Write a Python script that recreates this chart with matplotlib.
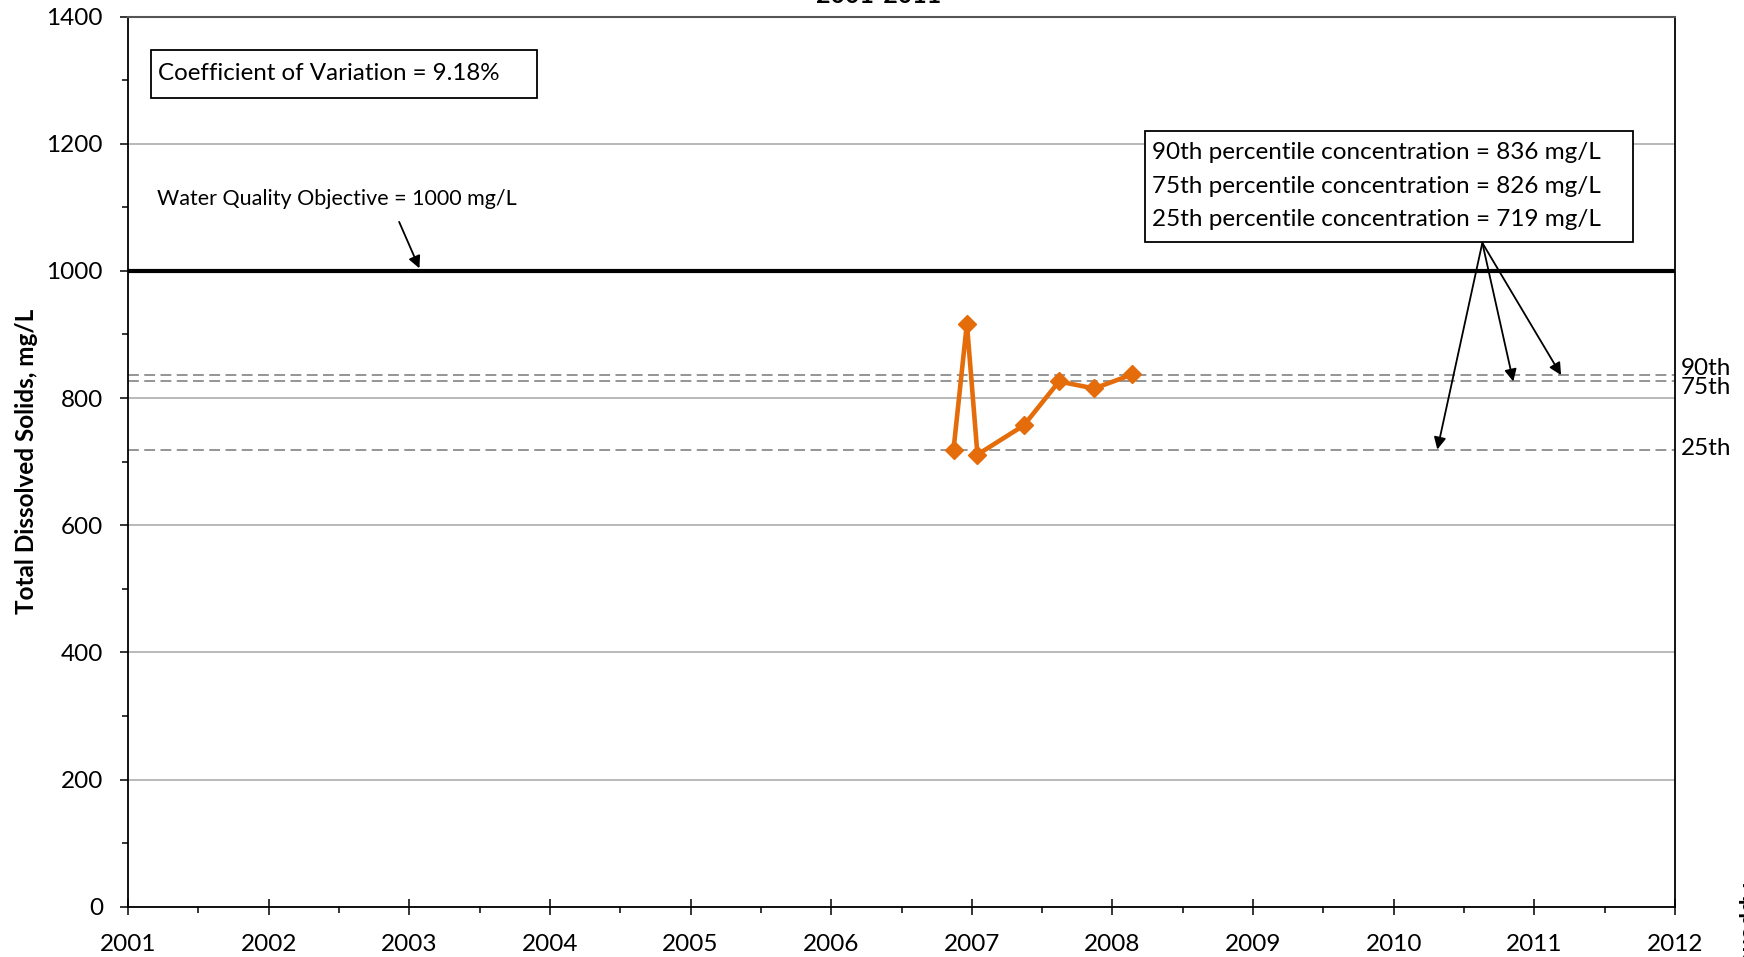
import matplotlib
matplotlib.use('Agg')
import matplotlib.pyplot as plt
from matplotlib.patches import Rectangle
from matplotlib.ticker import MultipleLocator
import matplotlib.transforms as mtransforms

# sample dates (decimal years) and TDS results
years = [2006.87, 2006.965, 2007.04, 2007.37, 2007.62, 2007.87, 2008.14]
tds = [719, 917, 711, 757, 826, 815, 837]

objective = 1000
pct_names = ['90th', '75th', '25th']
pct_values = [836, 826, 719]
cov = 9.18
xticks = list(range(2001, 2013))
yticks = list(range(0, 1401, 200))

plt.rcParams['font.family'] = ['Lato', 'DejaVu Sans']

W, H = 1744, 957
fig = plt.figure(figsize=(W / 100, H / 100), dpi=100)
ax = fig.add_axes([128 / W, 1 - 906.7 / H, 1547 / W, 890.2 / H])

ax.set_xlim(2001, 2012)
ax.set_ylim(0, 1400)
ax.set_xticks(xticks)
ax.set_yticks(yticks)
ax.xaxis.set_minor_locator(MultipleLocator(0.5))
ax.yaxis.set_minor_locator(MultipleLocator(100))
ax.tick_params(axis='x', which='major', direction='inout', length=11.5, width=1.1, labelsize=17.5, pad=14)
ax.tick_params(axis='x', which='minor', direction='out', length=4.5, width=1.1)
ax.tick_params(axis='y', which='major', direction='out', length=6, width=1.1, labelsize=17.5, pad=12)
ax.tick_params(axis='y', which='minor', direction='out', length=4.5, width=1.1)

for s in ['left', 'bottom', 'right']:
    ax.spines[s].set_color('black')
    ax.spines[s].set_linewidth(1.3)
ax.spines['top'].set_color('#555555')
ax.spines['top'].set_linewidth(1.5)

ax.yaxis.grid(True, color='#a6a6a6', lw=1.1)
ax.set_axisbelow(True)

for v in pct_values:
    ax.axhline(v, color='#8c8c8c', lw=1.3, ls=(0, (6, 3)), zorder=1.5)
ax.axhline(objective, color='black', lw=3, zorder=2)

ax.plot(years, tds, color='#E46C0A', lw=3.3, marker='D', ms=9, zorder=3)

ax.set_ylabel('Total Dissolved Solids, mg/L', fontsize=17.5, fontweight='bold')
ax.yaxis.set_label_coords(-0.0585, 0.5)

# coefficient of variation box
ax.add_patch(Rectangle((0.0149, 0.9084), 0.2495, 0.054, transform=ax.transAxes,
                       fill=False, ec='black', lw=1.3, clip_on=False, zorder=4))
ax.text(0.0194, 0.936, 'Coefficient of Variation = %.2f%%' % cov, transform=ax.transAxes,
        fontsize=17.4, va='center', ha='left')

# percentile box
ax.add_patch(Rectangle((0.6574, 0.7467), 0.3155, 0.1247, transform=ax.transAxes,
                       facecolor='white', ec='black', lw=1.3, zorder=4))
for i, (n, v) in enumerate(zip(pct_names, pct_values)):
    ax.text(0.662, [0.847, 0.809, 0.7725][i], '%s percentile concentration = %d mg/L' % (n, v),
            transform=ax.transAxes, fontsize=17.5, va='center', ha='left', zorder=5)

# objective label and arrow
ax.text(2001.206, 1113, 'Water Quality Objective = %d mg/L' % objective, fontsize=15.5,
        va='center', ha='left')
ax.annotate('', xy=(2003.08, objective), xytext=(2002.92, 1081),
            arrowprops=dict(arrowstyle='-|>', color='black', lw=1.3, mutation_scale=18))

# arrows from percentile box to lines
for xe, v in zip([2011.19, 2010.85, 2010.31], pct_values):
    ax.annotate('', xy=(xe, v), xytext=(2010.63, 1044),
                arrowprops=dict(arrowstyle='-|>', color='black', lw=1.3, mutation_scale=18,
                                shrinkA=0, shrinkB=0))

# percentile labels at right
trans = mtransforms.blended_transform_factory(ax.transAxes, ax.transData)
for n, v, dy in zip(pct_names, pct_values, [11, -10, 1]):
    ax.text(1.004, v + dy, n, transform=trans, fontsize=17.5, va='center', ha='left')

fig.text(879 / W, 1 - 3 / H, '2001-2011', fontsize=18, fontweight='bold', ha='center', va='baseline')
fig.text(1738 / W, 1 - 882 / H, 'Appendix', fontsize=17, fontweight='bold', rotation=270,
         ha='left', va='top')

fig.savefig('out.png', dpi=100)
